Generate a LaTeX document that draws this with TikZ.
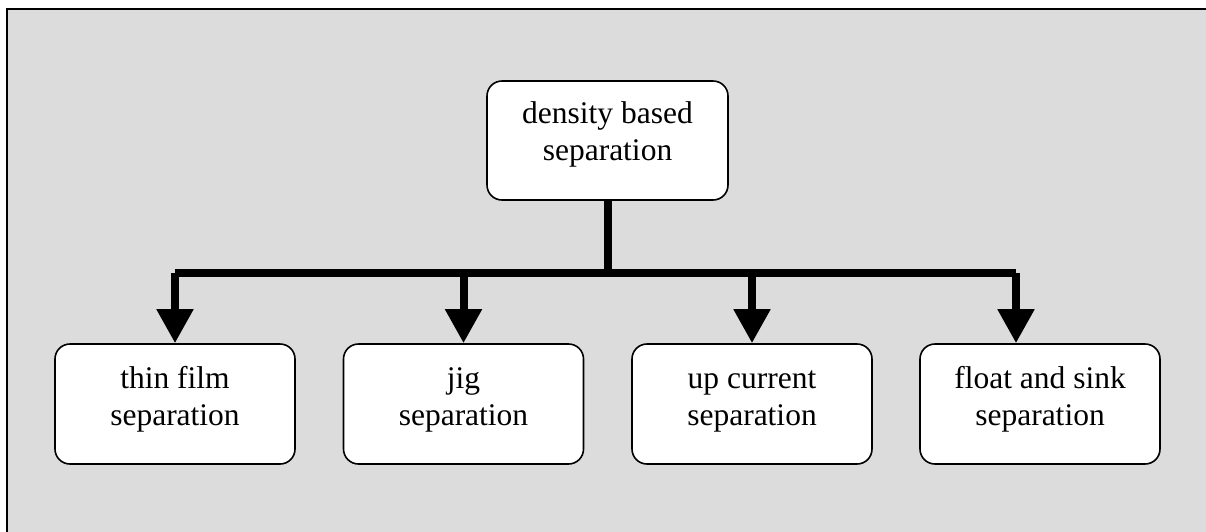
\documentclass[tikz,border=0pt]{standalone}
\usepackage{fontspec}
\setmainfont{Liberation Serif}
\usetikzlibrary{arrows.meta}
\definecolor{bggray}{RGB}{220,220,220}
\begin{document}
\begin{tikzpicture}[x=1pt,y=-1pt,
  box/.style={draw, line width=1.6pt, fill=white, rounded corners=15pt,
    minimum width=240pt, minimum height=120pt, inner sep=0pt},
  lbl/.style={anchor=base, align=center, font=\fontsize{31.5}{37}\selectfont, inner sep=0pt},
  conn/.style={line width=8pt},
  arr/.style={line width=8pt, -{Triangle[width=35pt,length=34pt]}}]
\useasboundingbox (0,0) rectangle (1206,531);
\begin{scope}
\clip (0,0) rectangle (1206,531);
\fill[bggray] (7,9) rectangle (1300,600);
\draw[line width=2pt] (7,600) -- (7,9) -- (1300,9);
\end{scope}

\node[box, minimum width=241pt, minimum height=119pt] (top) at (607.5,140.5) {};
\node[lbl] (ttop) at (607.5,160) {density based\\separation};

\node[box] (thin) at (175,404) {};
\node[lbl] (tthin) at (175,425) {thin film\\separation};
\node[box] (jig) at (463.5,404) {};
\node[lbl] (tjig) at (463.5,425) {jig\\separation};
\node[box] (up) at (752,404) {};
\node[lbl] (tup) at (752,425) {up current\\separation};
\node[box] (float) at (1040,404) {};
\node[lbl] (tfloat) at (1040,425) {float and sink\\separation};

\coordinate (hub) at (607.5,273);
\coordinate (a1) at (175,273);
\coordinate (a2) at (463.5,273);
\coordinate (a3) at (752,273);
\coordinate (a4) at (1016,273);

\draw[conn] (top.south) -- (hub);
\draw[conn] (a1) -- (a4);
\draw[arr] (a1) -- (a1 |- thin.north);
\draw[arr] (a2) -- (a2 |- jig.north);
\draw[arr] (a3) -- (a3 |- up.north);
\draw[arr] (a4) -- (a4 |- float.north);
\end{tikzpicture}
\end{document}
